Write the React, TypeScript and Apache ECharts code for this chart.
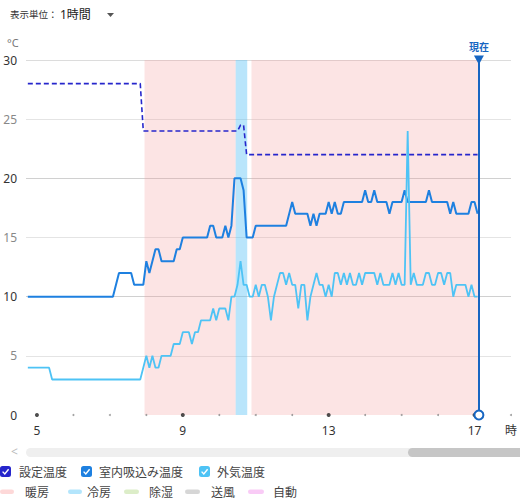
import React, { useEffect, useRef } from 'react';
import * as echarts from 'echarts';

const FONT = "'Noto Sans', 'Noto Sans CJK JP', sans-serif";

// 設定温度 (set temperature) — vertices, time "H:MM"
const setTimes = ['4:45', '7:50', '7:55', '10:30', '10:35', '10:40', '10:45', '17:05'];
const setValues = [28, 28, 24, 24, 24.5, 24.5, 22, 22];

// 室内吸込み温度 (room intake temperature)
const roomTimes = [
  '4:45', '7:05', '7:15', '7:35', '7:40', '7:55', '8:00', '8:05', '8:15', '8:20',
  '8:25', '8:45', '8:50', '8:55', '9:00', '9:40', '9:45', '9:50', '9:55', '10:05',
  '10:10', '10:15', '10:20', '10:25', '10:35', '10:40', '10:45', '10:55', '11:00', '11:50',
  '12:00', '12:05', '12:25', '12:30', '12:35', '12:40', '12:45', '12:55', '13:00', '13:05',
  '13:10', '13:15', '13:20', '13:25', '13:55', '14:00', '14:05', '14:10', '14:15', '14:20',
  '14:35', '14:40', '14:45', '15:00', '15:05', '15:10', '15:40', '15:45', '15:50', '16:15',
  '16:20', '16:25', '16:30', '16:50', '16:55', '17:00', '17:05',
];
const roomValues = [
  10, 10, 12, 12, 11, 11, 13, 12, 14, 14,
  13, 13, 14, 14, 15, 15, 16, 16, 15, 15,
  16, 15, 16, 20, 20, 19, 15, 15, 16, 16,
  18, 17, 17, 16, 17, 16, 17, 17, 18, 17,
  18, 17, 17, 18, 18, 19, 18, 18, 19, 18,
  18, 17, 18, 18, 19, 18, 18, 19, 18, 18,
  17, 18, 17, 17, 18, 18, 17,
];

// 外気温度 (outdoor temperature)
const outTimes = [
  '4:45', '5:20', '5:25', '7:50', '8:00', '8:05', '8:10', '8:15', '8:20', '8:25',
  '8:40', '8:45', '8:55', '9:00', '9:10', '9:15', '9:20', '9:25', '9:30', '9:45',
  '9:50', '9:55', '10:00', '10:10', '10:15', '10:20', '10:25', '10:30', '10:35', '10:40',
  '10:45', '10:50', '10:55', '11:00', '11:05', '11:10', '11:15', '11:20', '11:25', '11:30',
  '11:35', '11:40', '11:45', '11:50', '11:55', '12:00', '12:05', '12:10', '12:15', '12:20',
  '12:25', '12:30', '12:35', '12:40', '12:45', '12:50', '12:55', '13:00', '13:05', '13:10',
  '13:15', '13:20', '13:25', '13:30', '13:35', '13:40', '13:45', '13:50', '13:55', '14:00',
  '14:15', '14:20', '14:25', '14:30', '14:40', '14:45', '14:50', '14:55', '15:00', '15:05',
  '15:10', '15:15', '15:20', '15:25', '15:35', '15:40', '15:45', '15:50', '15:55', '16:00',
  '16:05', '16:10', '16:15', '16:20', '16:25', '16:30', '16:45', '16:50', '16:55', '17:00',
  '17:05',
];
const outValues = [
  4, 4, 3, 3, 5, 4, 5, 4, 4, 5,
  5, 6, 6, 7, 7, 6, 7, 7, 8, 8,
  9, 8, 9, 9, 8, 10, 10, 11, 13, 11,
  11, 10, 10, 11, 10, 11, 11, 10, 8, 10,
  11, 12, 12, 11, 12, 11, 11, 9, 11, 11,
  8, 10, 11, 12, 11, 11, 10, 11, 10, 12,
  12, 11, 12, 11, 12, 11, 11, 12, 11, 12,
  12, 11, 12, 11, 11, 12, 11, 12, 11, 11,
  24, 11, 12, 11, 11, 12, 12, 11, 11, 12,
  12, 11, 12, 12, 10, 11, 11, 10, 11, 10,
  10,
];

// operation-mode bands
const bandStart = ['7:57', '10:27', '10:53'];
const bandEnd = ['10:27', '10:46', '17:07'];
const bandMode = ['暖房', '冷房', '暖房'];
const modeNames = ['暖房', '冷房', '除湿', '送風', '自動'];
const modeColors = ['#fdd8d8', '#b3e5fc', '#dcedc8', '#d6d6d6', '#f9cbf6'];
const modeBandColors = ['rgba(245,150,150,0.26)', 'rgba(80,190,245,0.4)', 'rgba(150,200,100,0.3)', 'rgba(150,150,150,0.3)', 'rgba(240,120,230,0.3)'];

const nowTime = '17:07';
const axisTicks = [5, 9, 13, 17, 18];
const majorDotHours = [5, 9, 13, 17];
const minorDotHours = [6, 7, 8, 10, 11, 12, 14, 15, 16, 18];

const seriesNames = ['設定温度', '室内吸込み温度', '外気温度'];
const seriesColors = ['#2626cc', '#1e80e0', '#4ec3f5'];

const toH = (s: string) => {
  const [h, m] = s.split(':').map(Number);
  return h + m / 60;
};
const pairs = (t: string[], v: number[]) => t.map((s, i) => [toH(s), v[i]]);

function buildOption() {
  const bands = bandStart.map((s, i) => {
    const mi = modeNames.indexOf(bandMode[i]);
    return [
      { xAxis: toH(s), itemStyle: { color: modeBandColors[mi] } },
      { xAxis: toH(bandEnd[i]) },
    ];
  });

  const graphics: any[] = [];
  // header
  graphics.push(
    { type: 'text', left: 10, top: 10, style: { text: '表示単位：', fontSize: 9.5, fill: '#333', fontFamily: FONT } },
    { type: 'text', left: 60, top: 8, style: { text: '1時間', fontSize: 12, fill: '#222', fontFamily: FONT } },
    { type: 'polygon', shape: { points: [[107, 13], [114, 13], [110.5, 17]] }, style: { fill: '#555' } },
    { type: 'text', left: 7, top: 37, style: { text: '°C', fontSize: 11, fill: '#777', fontFamily: FONT } },
  );
  // scroll bar
  graphics.push(
    { type: 'text', left: 11, top: 445, style: { text: '<', fontSize: 12, fill: '#bbb', fontFamily: FONT } },
    { type: 'rect', shape: { x: 26, y: 448, width: 500, height: 9, r: 4.5 }, style: { fill: '#efefef' } },
    { type: 'rect', shape: { x: 408, y: 448, width: 120, height: 9, r: 4.5 }, style: { fill: '#c6c6c6' } },
  );
  // legend row 1 (checkboxes)
  const boxX = [0, 81, 199];
  const textX = [19, 99, 217];
  seriesNames.forEach((n, i) => {
    const x = boxX[i];
    graphics.push(
      { type: 'rect', shape: { x, y: 466, width: 11, height: 11, r: 2.5 }, style: { fill: seriesColors[i] } },
      { type: 'polyline', shape: { points: [[x + 2.6, 471.6], [x + 4.8, 474], [x + 8.6, 469.2]] }, style: { stroke: '#fff', lineWidth: 1.4, fill: null } },
      { type: 'text', x: textX[i], y: 472, style: { text: n, fontSize: 12, fill: '#444', fontFamily: FONT, textVerticalAlign: 'middle', verticalAlign: 'middle' } },
    );
  });
  // legend row 2 (modes)
  const barX = [0, 68, 124, 185, 248];
  const barW = [14, 14, 15, 15, 16];
  const modeTextX = [25, 87, 149, 211, 273];
  modeNames.forEach((n, i) => {
    graphics.push(
      { type: 'rect', shape: { x: barX[i], y: 489.5, width: barW[i], height: 4.5, r: 2.2 }, style: { fill: modeColors[i] } },
      { type: 'text', x: modeTextX[i], y: 492, style: { text: n, fontSize: 12, fill: '#444', fontFamily: FONT, textVerticalAlign: 'middle', verticalAlign: 'middle' } },
    );
  });

  return {
    animation: false,
    textStyle: { fontFamily: FONT },
    grid: { left: 26, right: 5, top: 60, bottom: 84, containLabel: false },
    xAxis: {
      type: 'value',
      min: 4.7,
      max: 18,
      axisLine: { show: false },
      axisTick: { show: false },
      splitLine: { show: false },
      axisLabel: {
        customValues: axisTicks,
        formatter: (v: number) => (v === 18 ? '時' : String(v)),
        color: '#333',
        fontSize: 12,
        margin: 9,
        fontFamily: FONT,
        showMinLabel: true,
        showMaxLabel: true,
      },
    },
    yAxis: {
      type: 'value',
      min: 0,
      max: 30,
      interval: 5,
      axisLine: { show: false },
      axisTick: { show: false },
      axisLabel: {
        margin: 9,
        formatter: (v: number) => (v % 10 === 0 ? `{a|${v}}` : `{b|${v}}`),
        rich: {
          a: { color: '#333', fontSize: 12, fontFamily: FONT },
          b: { color: '#888', fontSize: 12, fontFamily: FONT },
        },
      },
      splitLine: {
        show: true,
        lineStyle: {
          color: ['rgba(0,0,0,0)', '#e4e4e4', '#d0d0d0', '#e4e4e4', '#d0d0d0', '#e4e4e4', '#dcdcdc'],
          width: 1,
        },
      },
    },
    graphic: graphics,
    series: [
      {
        name: seriesNames[0],
        type: 'line',
        data: pairs(setTimes, setValues),
        showSymbol: false,
        symbol: 'none',
        lineStyle: { color: seriesColors[0], width: 1.6, type: [5, 3] },
        z: 3,
        markArea: { silent: true, data: bands },
      },
      {
        name: seriesNames[1],
        type: 'line',
        data: pairs(roomTimes, roomValues),
        showSymbol: false,
        symbol: 'none',
        lineStyle: { color: seriesColors[1], width: 2 },
        z: 3,
        markLine: {
          silent: true,
          symbol: ['emptyCircle', 'triangle'],
          symbolSize: [10, 9],
          symbolRotate: 180,
          lineStyle: { color: '#1766c2', width: 2, type: 'solid' },
          label: {
            show: true,
            position: 'end',
            formatter: '現在',
            color: '#1766c2',
            fontWeight: 'bold',
            fontSize: 10,
            distance: 8,
            fontFamily: FONT,
          },
          data: [{ xAxis: toH(nowTime) }],
        },
      },
      {
        name: seriesNames[2],
        type: 'line',
        data: pairs(outTimes, outValues),
        showSymbol: false,
        symbol: 'none',
        lineStyle: { color: seriesColors[2], width: 1.8 },
        z: 4,
      },
      {
        type: 'scatter',
        data: majorDotHours.map((h) => [h, 0]),
        symbolSize: 4,
        itemStyle: { color: '#222' },
        silent: true,
        z: 2,
      },
      {
        type: 'scatter',
        data: minorDotHours.map((h) => [h, 0]),
        symbolSize: 2,
        itemStyle: { color: '#888' },
        silent: true,
        z: 2,
      },
    ],
  };
}

export default function App() {
  const ref = useRef<HTMLDivElement>(null);
  useEffect(() => {
    document.body.style.margin = '0';
    const chart = echarts.init(ref.current!, null, { renderer: 'svg' });
    chart.setOption(buildOption() as any);
    return () => chart.dispose();
  }, []);
  return <div ref={ref} style={{ width: 520, height: 499 }} />;
}
